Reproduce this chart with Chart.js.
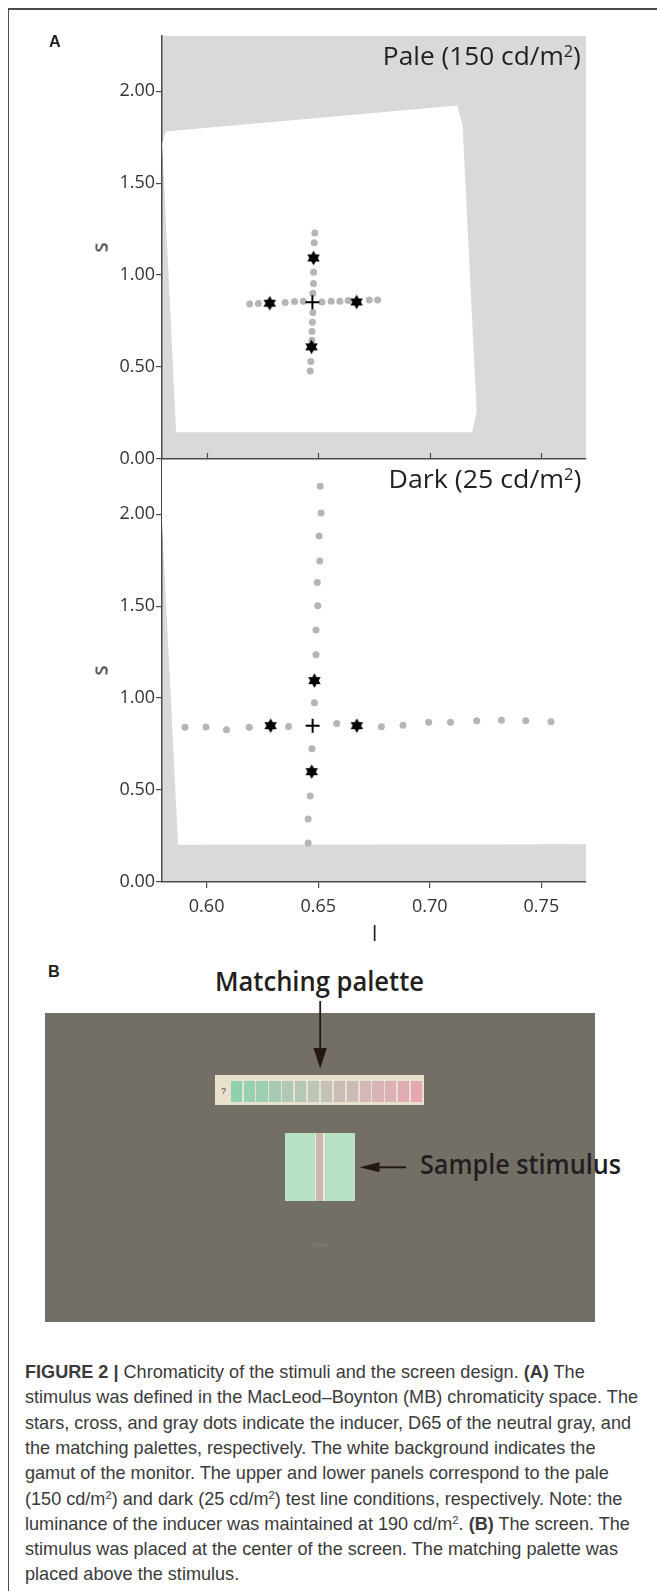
<!DOCTYPE html>
<html>
<head>
<meta charset="utf-8">
<script src="https://cdn.jsdelivr.net/npm/chart.js@4.4.1/dist/chart.umd.min.js"></script>
<style>
  html, body { margin: 0; padding: 0; background: #fff; }
  body { width: 657px; height: 1591px; position: relative; overflow: hidden; font-family: 'Open Sans', sans-serif; color: #231f20; }
  .abs { position: absolute; white-space: nowrap; }
  canvas { position: absolute; left: 0; }
  #frame { position: absolute; left: 7.5px; top: 7.5px; width: 700px; height: 1700px; border-top: 2px solid #4d4d4d; border-left: 1px solid #4d4d4d; }
  .panel-letter { font-family: 'Liberation Sans', Arial, sans-serif; font-weight: 700; font-size: 16.3px; line-height: 16.3px; }
  .cond { font-size: 25.6px; line-height: 25.6px; font-weight: 500; text-align: right; right: 76px; transform-origin: right center; }
  .cond sup, .caption sup { font-size: 0.62em; vertical-align: 0.5em; line-height: 0; }
  .axis-title { font-size: 21px; line-height: 21px; }
  .callout { font-size: 26.6px; line-height: 26.6px; font-weight: 600; transform-origin: left center; }
  .caption { font-family: 'Liberation Sans', Arial, sans-serif; font-size: 18.5px; line-height: 25.3px; color: #3a3a3a; left: 25.2px; }
  .caption span { display: inline-block; transform-origin: left center; }
  #screen { position: absolute; left: 45px; top: 1013px; width: 550px; height: 309px; background: #736f66; }
</style>
</head>
<body>
<div id="frame"></div>

<canvas id="paleChart" width="657" height="490" style="top:0; z-index:2"></canvas>
<canvas id="darkChart" width="657" height="520" style="top:440px; z-index:1"></canvas>

<div class="abs panel-letter" style="left:49px; top:33px; z-index:3">A</div>
<div class="abs cond" id="titlePale" style="top:42.5px; z-index:3">Pale (150 cd/m<sup>2</sup>)</div>
<div class="abs cond" id="titleDark" style="top:466px; z-index:3">Dark (25 cd/m<sup>2</sup>)</div>
<div class="abs axis-title" style="left:95px; top:237px; transform: rotate(-90deg); z-index:3">s</div>
<div class="abs axis-title" style="left:95px; top:660px; transform: rotate(-90deg); z-index:3">s</div>
<div class="abs axis-title" style="left:372px; top:923px; z-index:3">l</div>

<div class="abs panel-letter" style="left:48px; top:963px">B</div>
<div id="screen"></div>
<div class="abs callout" id="calloutPalette" style="left:215px; top:968px">Matching palette</div>
<div class="abs callout" id="calloutSample" style="left:419.5px; top:1151px">Sample stimulus</div>
<svg class="abs" style="left:0; top:0" width="657" height="1591">
  <line x1="320.2" y1="1001" x2="320.2" y2="1052" stroke="#231815" stroke-width="1.8"/>
  <polygon points="313.5,1048 326.9,1048 320.2,1068.5" fill="#231815"/>
  <line x1="406" y1="1167.3" x2="375" y2="1167.3" stroke="#231815" stroke-width="2"/>
  <polygon points="379.5,1162.3 379.5,1172.3 359.6,1167.3" fill="#231815"/>
</svg>
<div id="paletteBox" class="abs" style="left:215px; top:1075px; width:209px; height:30px; background:#e7e1cd"></div>
<div class="abs" style="left:221px; top:1085px; font-family:'Liberation Sans',Arial,sans-serif; font-size:9px; line-height:12px; color:#444">?</div>
<div class="abs" style="left:285px; top:1133px; width:70px; height:68px; background:#b7e0c4"></div>
<div class="abs" style="left:314.7px; top:1133px; width:10px; height:68px; background:#efe6d6"></div>
<div class="abs" style="left:316px; top:1133px; width:7.3px; height:68px; background:#c8bba9"></div>
<div class="abs" style="left:313px; top:1241px; font-family:'Liberation Sans',Arial,sans-serif; font-size:6px; line-height:8px; color:#85827a">60/60</div>

<div id="caption"></div>

<script>
// axis ticks
const xTicks = [0.60, 0.65, 0.70, 0.75];
const yTicks = [0, 0.5, 1.0, 1.5, 2.0];

// Pale (150 cd/m2) panel: monitor gamut, palette dots, inducer stars, D65 cross
const paleGamutL = [0.5801, 0.5816, 0.7123, 0.7147, 0.7210, 0.7189, 0.5863];
const paleGamutS = [1.714, 1.781, 1.922, 1.813, 0.257, 0.145, 0.145];
const palePaletteL = [0.6485, 0.6482, 0.6479, 0.6479, 0.6476, 0.6476, 0.6474, 0.6472, 0.6472, 0.6467, 0.6464,
                      0.6193, 0.6232, 0.6352, 0.6394, 0.6433, 0.6517, 0.6558, 0.6597, 0.6635, 0.6729, 0.6766];
const palePaletteS = [1.229, 1.176, 1.015, 0.954, 0.901, 0.796, 0.744, 0.693, 0.646, 0.530, 0.479,
                      0.843, 0.845, 0.851, 0.856, 0.858, 0.854, 0.858, 0.858, 0.862, 0.865, 0.865];
const paleInducerL = [0.6479, 0.6470, 0.6283, 0.6672];
const paleInducerS = [1.093, 0.610, 0.847, 0.854];
const paleD65L = [0.6474];
const paleD65S = [0.852];

// Dark (25 cd/m2) panel
const darkGamutL = [0.5786, 0.5872, 0.78, 0.78];
const darkGamutS = [2.3, 0.2025, 0.206, 2.3];
const darkPaletteL = [0.6509, 0.6513, 0.6504, 0.6507, 0.6496, 0.6498, 0.6490, 0.6490, 0.6483, 0.6472, 0.6464, 0.6455, 0.6455,
                      0.5903, 0.5997, 0.6089, 0.6191, 0.6367, 0.6583, 0.6783, 0.6880, 0.6995, 0.7093, 0.7210, 0.7321, 0.7430, 0.7543];
const darkPaletteS = [2.152, 2.006, 1.882, 1.746, 1.629, 1.502, 1.370, 1.236, 0.975, 0.724, 0.467, 0.342, 0.212,
                      0.841, 0.843, 0.828, 0.841, 0.845, 0.862, 0.844, 0.852, 0.868, 0.869, 0.877, 0.880, 0.877, 0.872];
const darkInducerL = [0.6483, 0.6471, 0.6287, 0.6673];
const darkInducerS = [1.095, 0.600, 0.850, 0.850];
const darkD65L = [0.6475];
const darkD65S = [0.850];

// matching palette swatches (panel B)
const paletteColors = ['#8fd1ae', '#98d0b2', '#9ecfb3', '#a6cbb4', '#b0c8b5', '#b5c7b7', '#bbc6b6', '#c4c2b6',
                       '#c9bdb5', '#cdbab6', '#d4b7b8', '#d8b3b8', '#ddafb6', '#e1abb6', '#e6a7b2'];

const captionLines = [
    '<b>FIGURE 2 |</b> Chromaticity of the stimuli and the screen design. <b>(A)</b> The',
    'stimulus was defined in the MacLeod–Boynton (MB) chromaticity space. The',
    'stars, cross, and gray dots indicate the inducer, D65 of the neutral gray, and',
    'the matching palettes, respectively. The white background indicates the',
    'gamut of the monitor. The upper and lower panels correspond to the pale',
    '(150 cd/m<sup>2</sup>) and dark (25 cd/m<sup>2</sup>) test line conditions, respectively. Note: the',
    'luminance of the inducer was maintained at 190 cd/m<sup>2</sup>. <b>(B)</b> The screen. The',
    'stimulus was placed at the center of the screen. The matching palette was',
    'placed above the stimulus.'
];

const AXIS = '#4a4a4a';
const toPoints = (ls, ss) => ls.map((l, i) => ({ x: l, y: ss[i] }));

// filled six-pointed star used as the inducer marker
const makeStar = (r) => {
    const size = Math.ceil(r * 2) + 2;
    const c = document.createElement('canvas');
    c.width = size; c.height = size;
    const g = c.getContext('2d');
    g.fillStyle = '#000';
    [-Math.PI / 2, Math.PI / 2].forEach(a0 => {
        g.beginPath();
        for (let k = 0; k < 3; k++) {
            const a = a0 + k * 2 * Math.PI / 3;
            const px = size / 2 + r * Math.cos(a), py = size / 2 + r * Math.sin(a);
            if (k) g.lineTo(px, py); else g.moveTo(px, py);
        }
        g.closePath();
        g.fill();
    });
    return c;
};
const starStyle = makeStar(7.2);

const plotBackground = {
    id: 'plotBackground',
    beforeDraw(chart) {
        const { ctx, chartArea: a } = chart;
        ctx.save();
        ctx.fillStyle = '#d9d9d9';
        ctx.fillRect(a.left, a.top, a.right - a.left, a.bottom - a.top);
        ctx.restore();
    }
};

// tick marks pointing into the plot (upper panel x axis)
const innerTicks = {
    id: 'innerTicks',
    afterDraw(chart) {
        const { ctx, chartArea: a, scales } = chart;
        ctx.save();
        ctx.strokeStyle = AXIS;
        ctx.lineWidth = 1.2;
        xTicks.forEach(v => {
            const px = Math.round(scales.x.getPixelForValue(v)) + 0.5;
            ctx.beginPath();
            ctx.moveTo(px, a.bottom);
            ctx.lineTo(px, a.bottom - 6);
            ctx.stroke();
        });
        ctx.restore();
    }
};

const makePanel = (id, gamut, palette, inducer, d65, opts) => {
    const ctx = document.getElementById(id).getContext('2d');
    return new Chart(ctx, {
        type: 'scatter',
        data: {
            datasets: [
                { type: 'line', data: gamut, fill: 'shape', backgroundColor: '#ffffff', borderWidth: 0,
                  pointRadius: 0, tension: 0, order: 3 },
                { data: palette, pointRadius: 3.5, backgroundColor: '#b5b5b5', borderWidth: 0, order: 2 },
                { data: inducer, pointStyle: starStyle, order: 1 },
                { data: d65, pointStyle: 'cross', pointRadius: 7, borderColor: '#000', borderWidth: 2, order: 0 }
            ]
        },
        options: {
            responsive: false,
            animation: false,
            events: [],
            layout: { padding: { top: opts.padTop, right: 71, bottom: 0, left: 0 } },
            plugins: { legend: { display: false }, tooltip: { enabled: false } },
            scales: {
                x: {
                    type: 'linear', min: 0.58, max: 0.77,
                    afterBuildTicks: s => { s.ticks = xTicks.map(v => ({ value: v })); },
                    afterFit: s => { s.height = opts.xHeight; },
                    border: { display: true, color: AXIS, width: 1.5 },
                    grid: { display: true, drawOnChartArea: false, drawTicks: opts.showX, tickLength: 6, color: AXIS, lineWidth: 1.2 },
                    ticks: { display: opts.showX, autoSkip: false, maxRotation: 0, padding: 8,
                             font: { family: 'Open Sans', size: 18 }, color: '#333',
                             callback: v => v.toFixed(2) }
                },
                y: {
                    type: 'linear', min: 0, max: 2.3,
                    afterBuildTicks: s => { s.ticks = yTicks.map(v => ({ value: v })); },
                    afterFit: s => { s.width = 162; },
                    border: { display: true, color: AXIS, width: 1.5 },
                    grid: { display: true, drawOnChartArea: false, drawTicks: true, tickLength: 6, color: AXIS, lineWidth: 1.2 },
                    ticks: { padding: 1, font: { family: 'Open Sans', size: 18 }, color: '#333',
                             callback: v => v.toFixed(2) }
                }
            }
        },
        plugins: opts.showX ? [plotBackground] : [plotBackground, innerTicks]
    });
};

makePanel('paleChart',
    toPoints(paleGamutL, paleGamutS), toPoints(palePaletteL, palePaletteS),
    toPoints(paleInducerL, paleInducerS), toPoints(paleD65L, paleD65S),
    { padTop: 36, xHeight: 31, showX: false });

makePanel('darkChart',
    toPoints(darkGamutL, darkGamutS), toPoints(darkPaletteL, darkPaletteS),
    toPoints(darkInducerL, darkInducerS), toPoints(darkD65L, darkD65S),
    { padTop: 19, xHeight: 78, showX: true });

// Panel B palette swatches
const box = document.getElementById('paletteBox');
paletteColors.forEach((c, i) => {
    const sw = document.createElement('div');
    sw.style.cssText = `position:absolute; left:${15.7 + i * 12.88}px; top:5.7px; width:11.2px; height:21.3px; background:${c}`;
    box.appendChild(sw);
});

// squeeze a text element to a given width
const fitWidth = (el, w) => {
    const nat = el.getBoundingClientRect().width;
    el.style.transform = `scaleX(${w / nat})`;
};
fitWidth(document.getElementById('calloutPalette'), 209);
fitWidth(document.getElementById('calloutSample'), 201);
fitWidth(document.getElementById('titlePale'), 198);
fitWidth(document.getElementById('titleDark'), 193);

// Caption
const cap = document.getElementById('caption');
const spans = captionLines.map((html, i) => {
    const d = document.createElement('div');
    d.className = 'abs caption';
    d.style.top = (1359 + i * 25.3) + 'px';
    d.innerHTML = `<span>${html}</span>`;
    cap.appendChild(d);
    return d.firstChild;
});
const capScale = 613 / spans[1].getBoundingClientRect().width;
spans.forEach(s => { s.style.transform = `scaleX(${capScale})`; });
</script>
</body>
</html>
